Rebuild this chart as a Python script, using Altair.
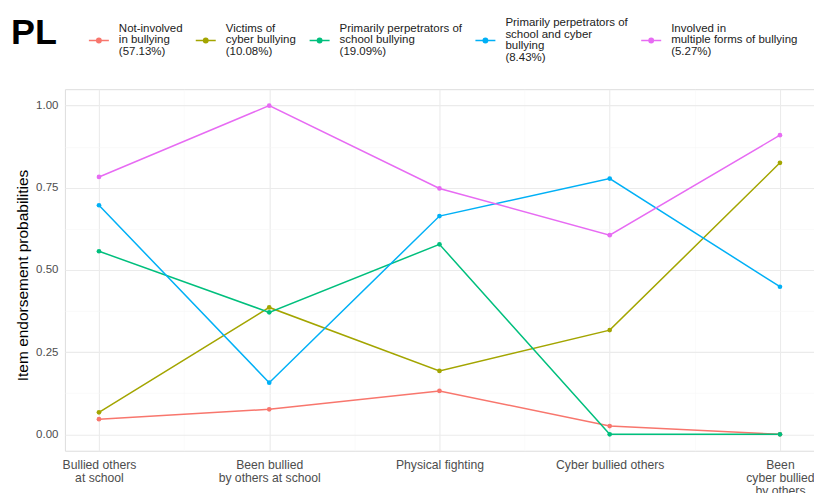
import json
import altair as alt
import pandas as pd

items = ["Bullied others|at school", "Been bullied|by others at school", "Physical fighting",
         "Cyber bullied others", "Been|cyber bullied|by others"]
classes = ["Not-involved|in bullying|(57.13%)",
           "Victims of|cyber bullying|(10.08%)",
           "Primarily perpetrators of|school bullying|(19.09%)",
           "Primarily perpetrators of|school and cyber|bullying|(8.43%)",
           "Involved in|multiple forms of bullying|(5.27%)"]
colors = ["#F8766D", "#A3A500", "#00BF7D", "#00B0F6", "#E76BF3"]

not_involved = [0.046, 0.076, 0.132, 0.025, 0.0]
cyber_victims = [0.067, 0.386, 0.193, 0.317, 0.826]
school_perp = [0.557, 0.371, 0.578, 0.0, 0.0]
school_cyber_perp = [0.697, 0.157, 0.664, 0.778, 0.449]
multiple = [0.783, 1.0, 0.748, 0.606, 0.910]

series = [not_involved, cyber_victims, school_perp, school_cyber_perp, multiple]
rows = []
for ci, (cls, vals) in enumerate(zip(classes, series)):
    for ii, v in enumerate(vals):
        rows.append({"cls": cls, "idx": ii + 1, "p": v})
df = pd.DataFrame(rows)

BLANK = "\u2800"


# legend labels: interleave half-height blank lines so every label block is centred
# on the same (middle) half-line, whatever its number of lines
def centred_lines(label, slots=7):
    parts = label.split("|")
    out = []
    for k, part in enumerate(parts):
        if k:
            out.append(BLANK)
        out.append(part)
    lead = (slots - len(out)) // 2
    out = [BLANK] * lead + out
    out += [BLANK] * (slots - len(out))
    return out


legend_map = {c: centred_lines(c) for c in classes}

items_js = json.dumps(items)
x_label_expr = f"datum.value % 1 === 0 ? split({items_js}[datum.value - 1], '|') : ''"
y_label_expr = "datum.value % 0.25 === 0 ? format(datum.value, '.2f') : ''"

major = "#ebebeb"
minor = "#f6f6f6"

x_enc = alt.X("idx:Q", scale=alt.Scale(domain=[0.8, 5.2], nice=False, zero=False),
              axis=alt.Axis(values=[1, 1.5, 2, 2.5, 3, 3.5, 4, 4.5, 5], labelExpr=x_label_expr,
                            title=None, domain=False, ticks=False, labelPadding=8,
                            labelFontSize=12.2, labelColor="#4d4d4d", labelFont="Liberation Sans",
                            labelLineHeight=13, labelBaseline="top",
                            gridColor={"condition": {"test": "datum.value % 1 === 0", "value": major}, "value": minor},
                            gridWidth={"condition": {"test": "datum.value % 1 === 0", "value": 1.1}, "value": 0.6}))
y_enc = alt.Y("p:Q", scale=alt.Scale(domain=[-0.05, 1.05], nice=False, zero=False),
              axis=alt.Axis(values=[0, 0.125, 0.25, 0.375, 0.5, 0.625, 0.75, 0.875, 1.0],
                            labelExpr=y_label_expr, title="Item endorsement probabilities",
                            titleFontSize=15.5, titleFont="Liberation Sans", titleFontWeight="normal",
                            titleColor="#000000", titlePadding=5, titleY=186,
                            domain=False, ticks=False, labelPadding=7,
                            labelFontSize=11.5, labelColor="#4d4d4d", labelFont="Liberation Sans",
                            gridColor={"condition": {"test": "datum.value % 0.25 === 0", "value": major}, "value": minor},
                            gridWidth={"condition": {"test": "datum.value % 0.25 === 0", "value": 1.1}, "value": 0.6}))

symbol_path = ("M-1,1.8L1,1.8M0.22,1.8A0.22,0.22 0 1 1 -0.22,1.8"
               "A0.22,0.22 0 1 1 0.22,1.8Z")

color_enc = alt.Color("cls:N", scale=alt.Scale(domain=classes, range=colors),
                      legend=alt.Legend(title=None, orient="none", direction="horizontal",
                                        legendX=23, legendY=-78, columns=5, columnPadding=10,
                                        labelExpr=f"{json.dumps(legend_map)}[datum.label]",
                                        labelFontSize=11.5, labelColor="#222222", labelFont="Liberation Sans",
                                        labelLimit=300, labelOffset=9, labelBaseline="middle",
                                        symbolType=symbol_path,
                                        symbolSize=400, symbolStrokeWidth=1.5))

base = alt.Chart(df).encode(x=x_enc, y=y_enc, color=color_enc, order="idx:Q", detail="cls:N")
lines = base.mark_line(strokeWidth=1.5)
points = base.mark_point(filled=True, size=22, opacity=1)

chart = alt.layer(lines, points).properties(
    width=750, height=362,
    title=alt.TitleParams("PL", anchor="start", frame="group", fontSize=36, fontWeight="bold",
                          font="Liberation Sans", color="#000000", dx=-54, offset=0, dy=69,
                          baseline="alphabetic"),
    autosize=alt.AutoSizeParams(type="none"),
    padding={"left": 65, "top": 89, "right": 0, "bottom": 42},
).configure_view(stroke=None).configure(
    background="white", style={"guide-label": {"lineHeight": 6}}
)

chart.save("out.html", embed_options={"renderer": "svg", "actions": False})
